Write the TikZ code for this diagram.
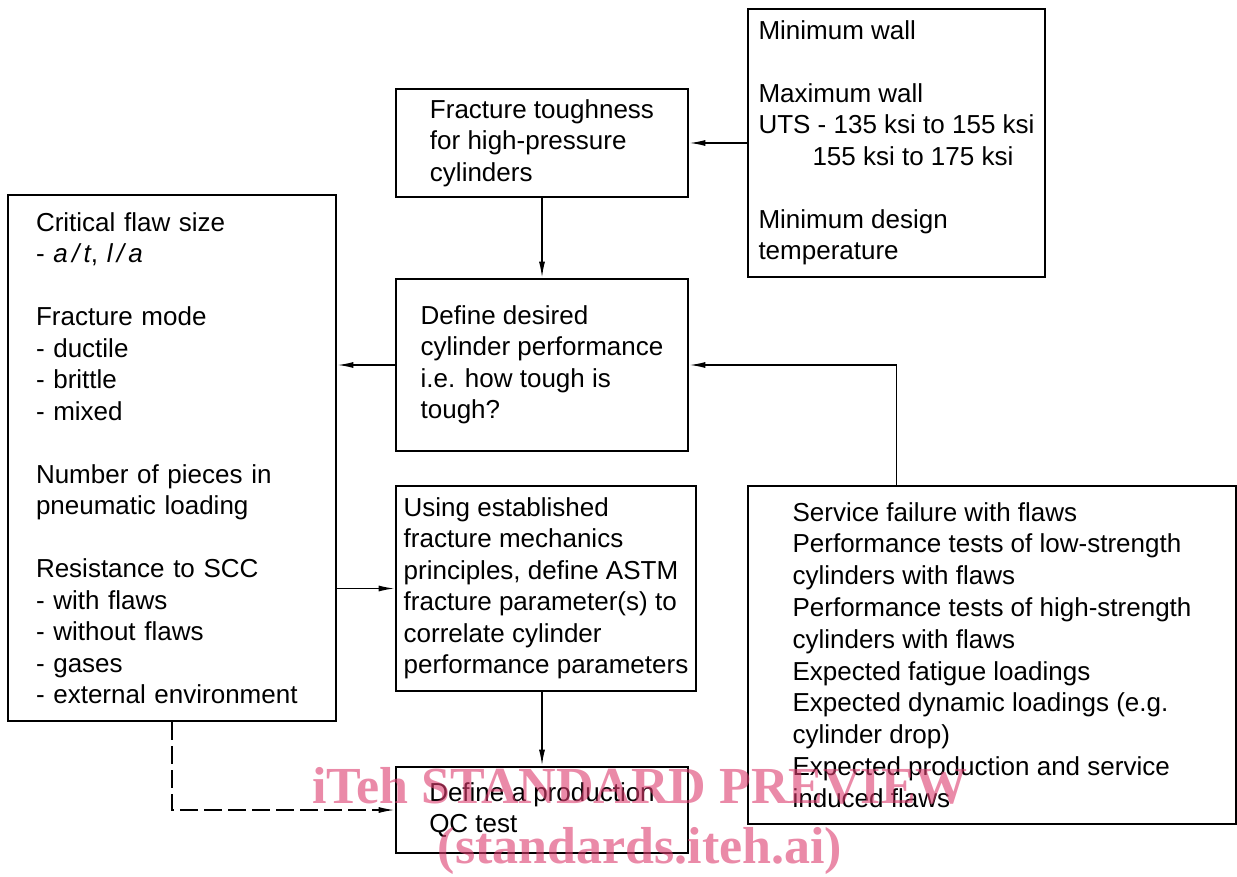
\documentclass[tikz,border=0pt]{standalone}
\usepackage{fontspec}
\setmainfont{Liberation Sans}
\newfontfamily\wmfont{Liberation Serif}
\usetikzlibrary{arrows.meta}

\definecolor{wmpink}{RGB}{220,60,110}

\begin{document}
\begin{tikzpicture}[
    x=0.5pt, y=-0.5pt,
    box/.style={draw, line width=1.3pt, align=left, inner sep=0pt, font=\fontsize{13}{15.75}\selectfont},
    arrow/.style={-{Latex[length=8pt, width=3pt]}, line width=0.75pt},
    dasharrow/.style={arrow, dash pattern=on 9pt off 3pt},
    wmark/.style={align=center, text=wmpink, text opacity=0.6, inner sep=0pt, font=\wmfont\bfseries\fontsize{26}{30}\selectfont}
]
\useasboundingbox (0,0) rectangle (1237,877);

\node[box, minimum width=148.5pt, minimum height=134pt] (walls) at (896.5,143) {Minimum wall\\[15.75pt]Maximum wall\\UTS - 135 ksi to 155 ksi\\\hspace*{27pt}155 ksi to 175 ksi\\[15.75pt]Minimum design\\temperature};
\node[box, minimum width=146pt, minimum height=54pt] (tough) at (542,143) {Fracture toughness\\for high-pressure\\cylinders};
\node[box, minimum width=146pt, minimum height=86pt] (perf) at (542,365) {Define desired\\cylinder performance\\i.e. how tough is\\tough?};
\node[box, text width=136pt, inner xsep=14pt, minimum height=263pt] (flaw) at (172,458) {Critical flaw size\\- \textit{a\,/\,t}, \textit{l\,/\,a}\\[15.75pt]Fracture mode\\- ductile\\- brittle\\- mixed\\[15.75pt]Number of pieces in\\pneumatic loading\\[15.75pt]Resistance to SCC\\- with flaws\\- without flaws\\- gases\\- external environment};
\node[box, minimum width=150pt, minimum height=102.5pt] (param) at (546,588.5) {Using established\\fracture mechanics\\principles, define ASTM\\fracture parameter(s) to\\correlate cylinder\\performance parameters};
\node[box, minimum width=244pt, minimum height=169pt, font=\fontsize{13}{15.9}\selectfont] (service) at (992,655) {Service failure with flaws\\Performance tests of low-strength\\cylinders with flaws\\Performance tests of high-strength\\cylinders with flaws\\Expected fatigue loadings\\Expected dynamic loadings (e.g.\\cylinder drop)\\Expected production and service\\induced flaws};
\node[box, minimum width=146pt, minimum height=43pt] (qctest) at (542,810) {Define a production\\QC test};

\draw[arrow] (walls.west) -- (tough.east);
\draw[arrow] (tough) -- (perf);
\draw[arrow] (perf.west) -- (perf.west -| flaw.east);
\draw[arrow] (service.north -| walls.south) |- (perf.east);
\draw[arrow] (param.west -| flaw.east) -- (param.west);
\draw[arrow] (param.south -| qctest.north) -- (qctest.north);
\draw[dasharrow] (flaw.south) |- (qctest.west);

\node[wmark] (wm) at (640,821) {iTeh STANDARD PREVIEW\\(standards.iteh.ai)};
\end{tikzpicture}
\end{document}
